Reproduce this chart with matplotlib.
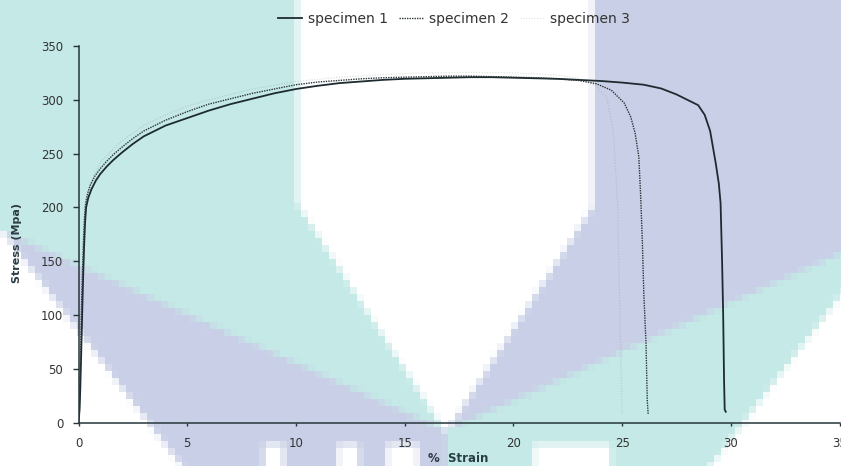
import numpy as np
import matplotlib
matplotlib.use("Agg")
import matplotlib.pyplot as plt

# tensile test readings: % strain vs stress (MPa)
strain1 = [0.0, 0.05, 0.08, 0.12, 0.15, 0.18, 0.22, 0.26, 0.30, 0.35, 0.45, 0.6, 0.8, 1.0, 1.3,
           1.6, 2.0, 2.5, 3.0, 3.5, 4.0, 5.0, 6.0, 7.0, 8.0, 9.0, 10.0, 11.0, 12.0, 13.0, 14.0,
           15.0, 16.0, 17.0, 18.0, 19.0, 20.0, 21.0, 22.0, 23.0, 24.0, 25.0, 26.0, 26.8, 27.5,
           28.0, 28.5, 28.8, 29.05, 29.3, 29.45, 29.53, 29.6, 29.65, 29.69, 29.72, 29.77]
stress1 = [0, 12, 30, 60, 85, 110, 140, 165, 185, 200, 209, 217, 225, 231, 238,
           244, 251, 259, 266, 271, 276, 283, 290, 296, 301, 306, 310, 313, 315.5, 317, 318.5,
           319.5, 320, 320.5, 321, 321, 320.5, 320, 319.5, 318.5, 317.5, 316, 314, 310.5, 305,
           300, 295, 286, 271, 242, 222, 204, 150, 100, 40, 12, 10]

strain2 = [0.0, 0.04, 0.07, 0.1, 0.13, 0.16, 0.2, 0.24, 0.28, 0.33, 0.42, 0.55, 0.75, 1.0, 1.3,
           1.6, 2.0, 2.5, 3.0, 3.5, 4.0, 5.0, 6.0, 7.0, 8.0, 9.0, 10.0, 11.0, 12.0, 13.0, 14.0,
           15.0, 16.0, 17.0, 18.0, 19.0, 20.0, 21.0, 22.0, 23.0, 23.8, 24.5, 25.1, 25.4, 25.6,
           25.77, 25.85, 25.93, 26.0, 26.1, 26.16, 26.2]
stress2 = [0, 15, 40, 70, 100, 125, 150, 175, 192, 204, 213, 221, 229, 236, 243,
           249, 256, 264, 271, 276, 281, 289, 296, 301, 306, 310, 314, 316.5, 318, 319.5, 320.5,
           321, 321.5, 322, 322, 321.5, 321, 320.5, 319.5, 318, 315, 309, 297, 284, 269,
           247, 213, 170, 120, 74, 20, 8]

strain3 = [0.0, 0.1, 0.2, 0.3, 0.5, 1.0, 2.0, 3.0, 4.0, 5.0, 6.0, 8.0, 10.0, 12.0, 14.0, 16.0,
           18.0, 20.0, 22.0, 23.0, 23.8, 24.3, 24.6, 24.8, 24.9, 25.0]
stress3 = [0, 80, 160, 200, 220, 242, 262, 276, 286, 294, 300, 310, 317, 321, 323.5, 325,
           325.5, 325, 323, 320, 313, 302, 270, 200, 100, 8]

labels = ["specimen 1", "specimen 2", "specimen 3"]
xticks = [0, 5, 10, 15, 20, 25, 30, 35]
yticks = [0, 50, 100, 150, 200, 250, 300, 350]

W, H = 841, 466
TEAL = np.array([196, 233, 230]) / 255.0
LAV = np.array([201, 207, 230]) / 255.0
WHITE = np.ones(3)


def logo_background(block=7, sub=4):
    """Blocky teal/lavender logo behind the plot, in pixel coords (y down)."""
    nx, ny = -(-W // block), -(-H // block)
    xs = (np.arange(nx * sub) + 0.5) * block / sub
    ys = (np.arange(ny * sub) + 0.5) * block / sub
    X, Y = np.meshgrid(xs, ys)
    c = 446.0
    left = X <= c
    Xm = np.where(left, X, 2 * c - X)
    up = 230 + 0.45 * Xm
    low = 228 + 1.31 * Xm
    wedge = (Xm <= 298) | (Y > 205 + 1.54 * (Xm - 298))
    big = (Y < up) & wedge
    band = (Y >= up) & (Y <= low)
    teal = np.where(left, big, band)
    lav = np.where(left, band, big)
    # tops of the lettering along the bottom edge
    for x0, x1 in [(265, 284), (338, 359), (386, 418), (533, 610)]:
        cut = (X >= x0) & (X <= x1) & (Y >= 445)
        teal &= ~cut
        lav &= ~cut
    t = teal.reshape(ny, sub, nx, sub).mean(axis=(1, 3))[..., None]
    l = lav.reshape(ny, sub, nx, sub).mean(axis=(1, 3))[..., None]
    img = WHITE * (1 - t - l) + TEAL * t + LAV * l
    return img, nx * block, ny * block


fig = plt.figure(figsize=(W / 100, H / 100), dpi=100)

bg = fig.add_axes([0, 0, 1, 1], zorder=-5)
img, ew, eh = logo_background()
bg.imshow(img, extent=(0, ew, eh, 0), interpolation="nearest", aspect="auto")
bg.set_xlim(0, W)
bg.set_ylim(H, 0)
bg.axis("off")

ax = fig.add_axes([78.5 / W, 43.5 / H, 761 / W, 376.5 / H])
ax.set_facecolor("none")

ln1, = ax.plot(strain1, stress1, color="#1d2b30", lw=1.3, label=labels[0])
ln2, = ax.plot(strain2, stress2, color="#2a3338", lw=1.0, linestyle=(0, (1, 0.8)), label=labels[1])
ln3, = ax.plot(strain3, stress3, color="#808080", alpha=0.22, lw=0.9,
               linestyle=(0, (1, 1.2)), label=labels[2])

ax.set_xlim(0, 35)
ax.set_ylim(0, 350)
ax.set_xticks(xticks)
ax.set_yticks(yticks)
for side in ["top", "right"]:
    ax.spines[side].set_visible(False)
for side in ["left", "bottom"]:
    ax.spines[side].set_color("#26363b")
    ax.spines[side].set_linewidth(1.1)
    ax.spines[side].set_clip_on(False)
ax.tick_params(axis="y", direction="out", length=4, width=1, color="#26363b",
               labelsize=8.5, labelcolor="#333333", pad=7)
ax.tick_params(axis="x", direction="out", length=2.5, width=1, color="#26363b",
               labelsize=8.5, labelcolor="#333333", pad=8)
for lbl in ax.get_xticklabels():
    lbl.set_clip_on(False)

fig.text(17 / W, 1 - 243 / H, "Stress (Mpa)", rotation=90, ha="center", va="center",
         fontsize=8, fontweight="bold", color="#2b3d44")
fig.text(458 / W, 1 - 458 / H, "%  Strain", ha="center", va="center",
         fontsize=8.5, fontweight="bold", color="#2b3d44")

leg = fig.legend(handles=[ln1, ln2, ln3], loc="center", bbox_to_anchor=(454 / W, 1 - 19 / H),
                 ncol=3, frameon=False, fontsize=10, handlelength=1.75, handletextpad=0.45,
                 columnspacing=0.75, borderaxespad=0, borderpad=0)
for txt in leg.get_texts():
    txt.set_color("#333333")

fig.savefig("out.png", dpi=100)
